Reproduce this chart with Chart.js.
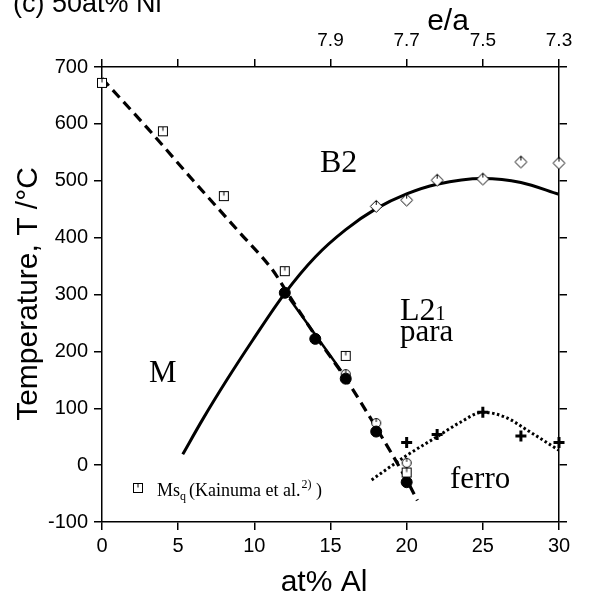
<!DOCTYPE html>
<html><head><meta charset="utf-8">
<script src="https://cdn.jsdelivr.net/npm/chart.js@4.4.0/dist/chart.umd.min.js"></script>
<style>html,body{margin:0;padding:0;background:#fff;}canvas{display:block;}</style>
</head><body>
<canvas id="c" width="589" height="599"></canvas>
<script>
// ---- tick labels ----
const xTickStep = 5;
const yTickStep = 100;
const topTickLabels = ['', '', '', '7.9', '7.7', '7.5', '7.3'];

// ---- series (at% Al, T / °C) ----
const msqX = [0, 4, 8, 12, 16, 20];
const msqY = [672, 587, 473, 341, 192, -13];
const filledX = [12, 14, 16, 18, 20];
const filledY = [303, 222, 152, 59, -30];
const openX = [16, 18, 20];
const openY = [160, 74, 4];
const diamondX = [18, 20, 22, 25, 27.5, 30];
const diamondY = [455, 466, 501, 503, 533, 531];
const plusX = [20, 22, 25, 27.5, 30];
const plusY = [40, 54, 93, 51, 40];

const b2X = [5.3, 6.6, 8.2, 9.9, 12, 14, 16, 18, 20, 22, 25, 27.5, 30];
const b2Y = [19, 80, 150, 220, 302, 366, 414, 451, 477, 494, 504, 497, 476];
const msX = [0, 3, 6, 9, 11.2, 12, 14, 16, 18, 20, 20.7];
const msY = [680, 592, 500, 410, 343, 310, 228, 152, 66, -26, -62];
const segX = [12.3, 15.7];
const segY = [293, 166];
const tcX = [17.7, 20, 22, 23.5, 25, 26.5, 28, 30];
const tcY = [-26, 17, 50, 75, 93, 84, 60, 26];

const pts = (xs, ys) => xs.map((x, i) => ({x: x, y: ys[i]}));

function mkImg(w, h, draw) {
  const cv = document.createElement('canvas');
  cv.width = w; cv.height = h;
  const c = cv.getContext('2d');
  c.strokeStyle = '#000'; c.fillStyle = '#fff'; c.lineWidth = 1;
  draw(c);
  return cv;
}
const sqImg = mkImg(12, 12, c => {
  c.fillRect(1.5, 1.5, 9, 9); c.strokeRect(1.5, 1.5, 9, 9);
  c.beginPath(); c.moveTo(6, 2); c.lineTo(6, 5.5); c.stroke();
});
const diaImg = mkImg(15, 15, c => {
  c.beginPath(); c.moveTo(7.5, 1.5); c.lineTo(13.5, 7.5); c.lineTo(7.5, 13.5); c.lineTo(1.5, 7.5); c.closePath();
  c.fill(); c.stroke();
  c.beginPath(); c.moveTo(7.5, 2); c.lineTo(7.5, 6); c.stroke();
});
const ocImg = mkImg(12, 12, c => {
  c.beginPath(); c.arc(6, 6, 4.5, 0, Math.PI * 2); c.fill(); c.stroke();
  c.beginPath(); c.moveTo(6, 1.5); c.lineTo(6, 5); c.stroke();
});

const SANS = '"Liberation Sans", Arial, sans-serif';
const SERIF = '"Liberation Serif", "Times New Roman", serif';

const gridOpt = {display: true, drawOnChartArea: false, drawTicks: true, tickLength: 8, color: '#000', lineWidth: 1.5};
const borderOpt = {display: true, color: '#000', width: 1.5};

const textPlugin = {
  id: 'texts',
  afterDraw(chart) {
    const ctx = chart.ctx;
    ctx.save();
    ctx.fillStyle = '#000';
    ctx.textAlign = 'left';
    ctx.textBaseline = 'alphabetic';
    ctx.font = '27px ' + SANS;
    ctx.fillText('(c) 50at% Ni', 13, 12);
    ctx.textAlign = 'center';
    ctx.font = '30px ' + SANS;
    ctx.fillText('e/a', 448, 30);
    ctx.fillText('at% Al', 324, 591);
    ctx.save();
    ctx.translate(37, 294);
    ctx.rotate(-Math.PI / 2);
    ctx.fillText('Temperature, T /\u00B0C', 0, 0);
    ctx.restore();

    ctx.textAlign = 'left';
    ctx.font = '32px ' + SERIF;
    ctx.fillText('B2', 320, 172);
    ctx.fillText('L2', 400, 320);
    const l2w = ctx.measureText('L2').width;
    ctx.font = '20px ' + SERIF;
    ctx.fillText('1', 400 + l2w, 320);
    ctx.font = '31px ' + SERIF;
    ctx.fillText('para', 400, 341);
    ctx.fillText('M', 149, 382);
    ctx.fillText('ferro', 450, 488);

    // legend
    ctx.drawImage(sqImg, 132, 482);
    let x = 157;
    const base = 496;
    ctx.font = '18px ' + SERIF;
    ctx.fillText('Ms', x, base); x += ctx.measureText('Ms').width;
    ctx.font = '12px ' + SERIF;
    ctx.fillText('q', x, base + 4); x += ctx.measureText('q').width + 3;
    ctx.font = '18px ' + SERIF;
    ctx.fillText('(Kainuma et al.', x, base); x += ctx.measureText('(Kainuma et al.').width + 1;
    ctx.font = '12px ' + SERIF;
    ctx.fillText('2)', x, base - 8); x += ctx.measureText('2)').width;
    ctx.font = '18px ' + SERIF;
    ctx.fillText(' )', x, base);
    ctx.restore();
  }
};

new Chart(document.getElementById('c'), {
  type: 'scatter',
  data: {
    datasets: [
      {data: pts(msqX, msqY), pointStyle: sqImg, pointRadius: 6, order: 0, clip: false},
      {data: pts(openX, openY), pointStyle: ocImg, pointRadius: 6, order: 1, clip: false},
      {data: pts(filledX, filledY), pointStyle: 'circle', pointRadius: 5.5, backgroundColor: '#000', borderColor: '#000', borderWidth: 1, order: 0, clip: false},
      {data: pts(diamondX, diamondY), pointStyle: diaImg, pointRadius: 7, order: 0, clip: false},
      {data: pts(plusX, plusY), pointStyle: 'cross', pointRadius: 5.5, borderColor: '#000', borderWidth: 3, order: 0, clip: false},
      {data: pts(b2X, b2Y), showLine: true, pointRadius: 0, borderColor: '#000', borderWidth: 3, cubicInterpolationMode: 'monotone', order: 5},
      {data: pts(msX, msY), showLine: true, pointRadius: 0, borderColor: '#000', borderWidth: 3.2, borderDash: [10, 6], cubicInterpolationMode: 'monotone', order: 5},
      {data: pts(segX, segY), showLine: true, pointRadius: 0, borderColor: '#000', borderWidth: 2.5, order: 5},
      {data: pts(tcX, tcY), showLine: true, pointRadius: 0, borderColor: '#000', borderWidth: 3, borderDash: [2.5, 2.5], cubicInterpolationMode: 'monotone', order: 5}
    ]
  },
  options: {
    responsive: false,
    animation: false,
    devicePixelRatio: 1,
    layout: {padding: 0},
    plugins: {legend: {display: false}, tooltip: {enabled: false}},
    elements: {point: {hoverRadius: 0}},
    scales: {
      x: {
        type: 'linear', position: 'bottom', min: 0, max: 30,
        ticks: {stepSize: xTickStep, color: '#000', font: {family: SANS, size: 20}, padding: 4, maxRotation: 0, autoSkip: false},
        grid: gridOpt, border: borderOpt,
        afterFit(s) { s.height = 77; }
      },
      x2: {
        type: 'linear', position: 'top', min: 0, max: 30,
        ticks: {stepSize: xTickStep, color: '#000', font: {family: SANS, size: 19}, padding: 7, maxRotation: 0, autoSkip: false,
          callback: (v, i) => topTickLabels[i]},
        grid: gridOpt, border: borderOpt,
        afterFit(s) { s.height = 67; }
      },
      y: {
        type: 'linear', position: 'left', min: -100, max: 700,
        ticks: {stepSize: yTickStep, color: '#000', font: {family: SANS, size: 20}, padding: 6, autoSkip: false},
        grid: gridOpt, border: borderOpt,
        afterFit(s) { s.width = 102; }
      },
      y2: {
        type: 'linear', position: 'right', min: -100, max: 700,
        ticks: {stepSize: yTickStep, callback: () => '', autoSkip: false},
        grid: gridOpt, border: borderOpt,
        afterFit(s) { s.width = 30; }
      }
    }
  },
  plugins: [textPlugin]
});
</script>
</body></html>
